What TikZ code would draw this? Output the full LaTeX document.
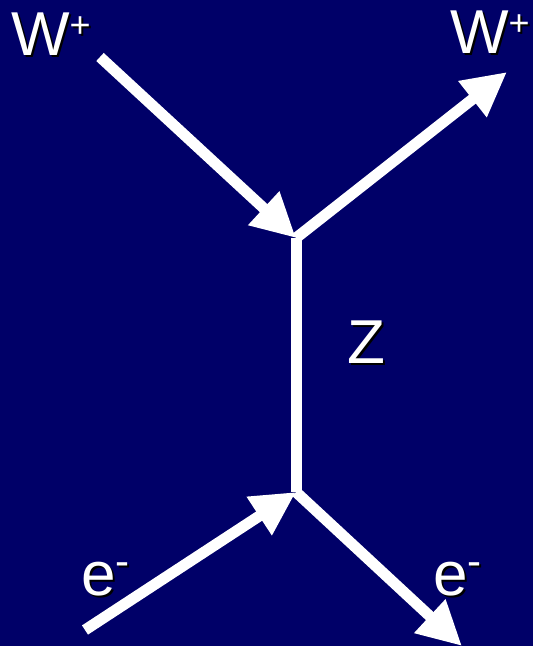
\documentclass[tikz,border=0pt]{standalone}
\usepackage{fontspec}
\setmainfont{Liberation Sans}
\usetikzlibrary{arrows.meta}
\definecolor{navy}{RGB}{0,0,104}
\newcommand{\bigf}{\fontsize{62}{62}\selectfont}
\newcommand{\supf}{\fontsize{36}{36}\selectfont}
\newcommand{\Wp}{W\raisebox{18pt}{\supf +}}
\newcommand{\Em}{e\raisebox{20pt}{\fontsize{42}{42}\selectfont -}}
\begin{document}
\begin{tikzpicture}[x=1pt,y=-1pt,
  wline/.style={white,line width=11pt},
  arr/.style={wline,-{Triangle[length=44pt,width=43pt]}},
  lbl/.style={inner sep=0pt,anchor=base west,text=white,font=\bigf},
  shd/.style={inner sep=0pt,anchor=base west,text=black,font=\bigf}]
\fill[navy] (0,0) rectangle (533,646);
\useasboundingbox (0,0) rectangle (533,646);
\coordinate (top) at (296,238);
\coordinate (bot) at (296,492);
\coordinate (win) at (100,57);
\coordinate (wout) at (507,72);
\coordinate (ein) at (85,630);
\coordinate (eout) at (462,646);
\draw[wline] (top) -- (bot);
\draw[arr] (win) -- (top);
\draw[arr] (top) -- (wout);
\draw[arr] (ein) -- (bot);
\draw[arr] (bot) -- (eout);
% labels with shadows
\node[shd] (w1s) at (13,57) {\Wp};
\node[lbl] (w1) at (11,55) {\Wp};
\node[shd] (w2s) at (452,55) {\Wp};
\node[lbl] (w2) at (450,53) {\Wp};
\node[shd] (zs) at (349,365) {Z};
\node[lbl] (z) at (347,363) {Z};
\node[shd] (e1s) at (83,597) {\Em};
\node[lbl] (e1) at (81,595) {\Em};
\node[shd] (e2s) at (435,597) {\Em};
\node[lbl] (e2) at (433,595) {\Em};
\end{tikzpicture}
\end{document}
